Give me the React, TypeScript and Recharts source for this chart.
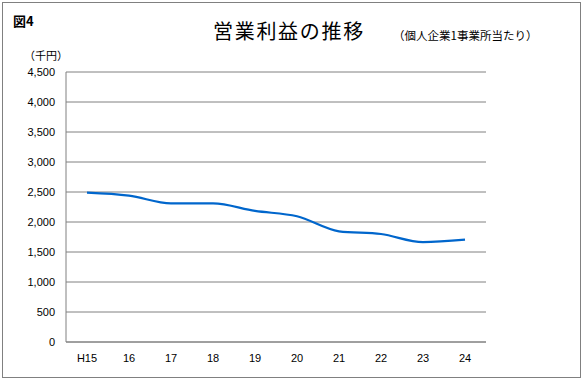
import { LineChart, Line, XAxis, YAxis, CartesianGrid } from "recharts";

const years = ["H15", "16", "17", "18", "19", "20", "21", "22", "23", "24"];
const profit = [2490, 2440, 2310, 2310, 2185, 2095, 1845, 1800, 1665, 1705];
const yTicks = [0, 500, 1000, 1500, 2000, 2500, 3000, 3500, 4000, 4500];

const data = years.map((y, i) => ({ year: y, value: profit[i] }));

const jp = '"Noto Sans CJK JP", "Noto Sans", sans-serif';
const tickStyle = { fill: "#000", fontSize: 11, fontFamily: '"Liberation Sans", Arial, sans-serif' };

export default function App() {
  return (
    <div style={{ position: "absolute", left: 0, top: 0, width: 585, height: 385, background: "#fff", fontFamily: jp }}>
      {/* frame */}
      <div style={{ position: "absolute", left: 2, top: 2, width: 577, height: 374, border: "1.5px solid #808080" }} />

      <div style={{ position: "absolute", left: 13, top: 11, fontSize: 13, fontWeight: 700, color: "#000" }}>図4</div>
      <div style={{ position: "absolute", left: 213, top: 16, fontSize: 20, letterSpacing: 1.7, color: "#000" }}>営業利益の推移</div>
      <div style={{ position: "absolute", left: 393, top: 27, fontSize: 11.5, color: "#000" }}>（個人企業1事業所当たり）</div>
      <div style={{ position: "absolute", left: 24, top: 47, fontSize: 11, color: "#000" }}>（千円）</div>

      <div style={{ position: "absolute", left: 0, top: 0 }}>
        <LineChart width={585} height={385} data={data} margin={{ top: 72, right: 99, bottom: 13, left: 0 }}>
          <CartesianGrid vertical={false} stroke="#808080" strokeWidth={1} />
          <XAxis
            dataKey="year"
            height={30}
            stroke="#808080"
            tickSize={0}
            tickMargin={12}
            tick={tickStyle}
            interval={0}
            padding={{ left: 21, right: 21 }}
          />
          <YAxis
            width={66}
            domain={[0, 4500]}
            ticks={yTicks}
            stroke="#808080"
            tickSize={0}
            tickMargin={11}
            tick={tickStyle}
            tickFormatter={(v: number) => v.toLocaleString("en-US")}
            interval={0}
          />
          <Line
            type="monotone"
            dataKey="value"
            stroke="#0066CC"
            strokeWidth={2.2}
            dot={false}
            isAnimationActive={false}
          />
        </LineChart>
      </div>
    </div>
  );
}
